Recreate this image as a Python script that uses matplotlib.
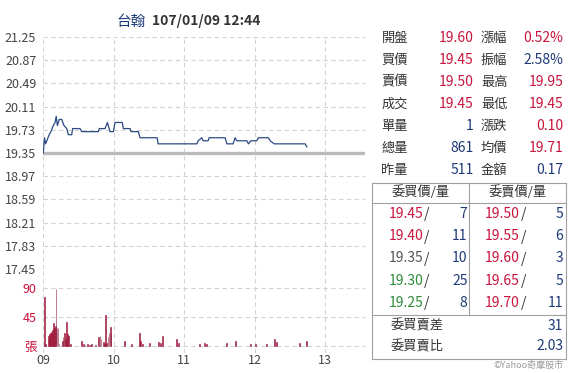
import matplotlib
matplotlib.use("Agg")
import matplotlib.pyplot as plt

plt.rcParams['font.family'] = ['Noto Sans CJK TC', 'DejaVu Sans']

W, H = 587, 373

# ---------------- data ----------------
title_name = "台翰"
title_time = "107/01/09 12:44"
prev_close = 19.35

price_ticks = [21.25, 20.87, 20.49, 20.11, 19.73, 19.35, 18.97, 18.59, 18.21, 17.83, 17.45]
hour_labels = ["09", "10", "11", "12", "13"]
hour_minutes = [0, 60, 120, 180, 240]

# minutes after 09:00 and trade price
price_min = [0, 1, 2, 3, 5, 6.5, 8.5, 10, 11, 12, 13.6, 15.7, 17.6, 20, 21.3, 24.2, 25,
             31.3, 32.7, 46.9, 47.7, 52.6, 54.6, 56.9, 59.7, 61.1, 67.3, 68.2, 73.9, 74.8,
             81, 82.4, 97, 97.8, 130.8, 131.9, 135, 136.2, 140.4, 141.3, 154.9, 156.4,
             161.7, 163.4, 164.9, 173.4, 174.8, 176.8, 181.9, 183.3, 191.8, 193.3, 196.7,
             223.1, 224.5]
price_val = [19.35, 19.60, 19.50, 19.55, 19.65, 19.70, 19.80, 19.85, 19.95, 19.80, 19.90,
             19.90, 19.80, 19.75, 19.65, 19.65, 19.75, 19.75, 19.70, 19.70, 19.75, 19.75,
             19.85, 19.70, 19.70, 19.85, 19.85, 19.75, 19.75, 19.70, 19.70, 19.60, 19.60,
             19.50, 19.50, 19.55, 19.60, 19.55, 19.55, 19.60, 19.60, 19.50, 19.50, 19.60,
             19.55, 19.55, 19.50, 19.55, 19.55, 19.60, 19.60, 19.55, 19.50, 19.50, 19.45]

vol_min = [1, 2, 4.3, 5.3, 6.1, 7, 7.8, 8.5, 9.4, 10.1, 10.8, 11.7, 12.5, 13.4, 16, 16.8,
           17.9, 18.8, 19.6, 20.5, 21.3, 22.8, 32.7, 34.3, 35.5, 37.3, 39.4, 40.7, 44.1,
           47.2, 48.3, 49.2, 51.2, 52.2, 52.9, 53.9, 55.1, 56, 56.9, 57.7, 69, 75.4, 81.8,
           83, 84.7, 90.4, 98, 99.5, 101.4, 113.7, 115.1, 133, 137, 138.7, 156.4, 163.4,
           176.2, 180.5, 190.4, 196.9, 198.4, 218.2, 224]
vol_val = [75, 3, 15, 18, 20, 22, 25, 36, 28, 30, 88, 28, 28, 3, 8, 14, 20, 10, 37, 18, 15,
           2, 7, 2, 1, 2, 1, 2, 1, 14, 15, 10, 5, 3, 47, 4, 14, 20, 29, 20, 8, 3, 20, 8, 3,
           4, 6, 4, 15, 10, 4, 3, 4, 3, 4, 7, 3, 2, 3, 11, 5, 4, 8]
vol_ticks = [0, 45, 90]
vol_tick_labels = ["張", "45", "90"]

info_left_labels = ["開盤", "買價", "賣價", "成交", "單量", "總量", "昨量"]
info_left_values = ["19.60", "19.45", "19.50", "19.45", "1", "861", "511"]
info_left_colors = ["r", "r", "r", "r", "b", "b", "b"]
info_right_labels = ["漲幅", "振幅", "最高", "最低", "漲跌", "均價", "金額"]
info_right_values = ["0.52%", "2.58%", "19.95", "19.45", "0.10", "19.71", "0.17"]
info_right_colors = ["r", "b", "r", "r", "r", "r", "b"]

bid_header = "委買價/量"
ask_header = "委賣價/量"
bid_prices = ["19.45", "19.40", "19.35", "19.30", "19.25"]
bid_colors = ["r", "r", "k", "g", "g"]
bid_qty = ["7", "11", "10", "25", "8"]
ask_prices = ["19.50", "19.55", "19.60", "19.65", "19.70"]
ask_colors = ["r", "r", "r", "r", "r"]
ask_qty = ["5", "6", "3", "5", "11"]
summary_labels = ["委買賣差", "委買賣比"]
summary_values = ["31", "2.03"]
credit = "©Yahoo奇摩股市"

COL = {"r": "#c8143c", "b": "#1f3a78", "g": "#2e8b3a", "k": "#555555"}
TXT = "#333333"

# ---------------- figure ----------------
fig = plt.figure(figsize=(W / 100, H / 100), dpi=100)
fig.patch.set_facecolor("white")

def fx(x):
    return x / W

def fy(y):
    return 1 - y / H

x0, x1 = 43.3, 365
ppm = (325 - 43.3) / 240.0  # pixels per minute
xmax = (x1 - x0) / ppm

# price axes
top, pbot = 37, 269
axp = fig.add_axes([fx(x0), fy(pbot), fx(x1) - fx(x0), (pbot - top) / H])
axp.set_xlim(0, xmax)
axp.set_ylim(17.45, 21.25)
# volume axes
vtop, vbot = 269, 353
zero_y = 345.7
pxu = (345.7 - 287.7) / 90.0
axv = fig.add_axes([fx(x0), fy(vbot), fx(x1) - fx(x0), (vbot - vtop) / H])
axv.set_xlim(0, xmax)
axv.set_ylim(-(vbot - zero_y) / pxu, (zero_y - vtop) / pxu)

grid_kw = dict(color="#d2d2d2", linestyle=(0, (4, 3)), linewidth=0.8)
for ax in (axp, axv):
    for s in ax.spines.values():
        s.set_visible(False)
    ax.set_facecolor("none")
    for m in hour_minutes:
        ax.axvline(m, zorder=0, **grid_kw)

for p in price_ticks:
    axp.axhline(p, zorder=0, **grid_kw)
for v in vol_ticks:
    axv.axhline(v, zorder=0, **grid_kw)

axp.axhline(prev_close, color="#bbbbbb", linewidth=2.4, zorder=1)
axp.plot(price_min, price_val, color="#2a4a82", linewidth=0.9, zorder=3)

axv.bar(vol_min, vol_val, width=0.75, color="#d0103a", edgecolor="#8b1a3a",
        linewidth=0.4, zorder=3)

axp.set_yticks(price_ticks)
axp.set_yticklabels([f"{p:.2f}" for p in price_ticks])
axp.tick_params(axis="y", length=0, pad=5, labelsize=9, labelcolor="#444444")
axp.set_xticks([])

axv.set_yticks(vol_ticks)
axv.set_yticklabels(vol_tick_labels)
axv.tick_params(axis="y", length=0, pad=5, labelsize=9, labelcolor="#c8143c")
axv.set_xticks(hour_minutes)
axv.set_xticklabels(hour_labels)
axv.tick_params(axis="x", length=0, pad=1, labelsize=9, labelcolor="#444444")

# title
fig.text(fx(145.7), fy(21.5), title_name, ha="right", va="center", fontsize=10.5,
         color="#1f3a78")
fig.text(fx(151.5), fy(21.5), title_time, ha="left", va="center", fontsize=10,
         color="#333333", fontweight="bold")

# info table
row_y = [38.3, 60.3, 82.3, 104.3, 126.3, 148.3, 170.3]
for i, y in enumerate(row_y):
    fig.text(fx(381.5), fy(y), info_left_labels[i], ha="left", va="center",
             fontsize=9.5, color=TXT)
    fig.text(fx(473.5), fy(y), info_left_values[i], ha="right", va="center",
             fontsize=10, color=COL[info_left_colors[i]])
    fig.text(fx(481), fy(y), info_right_labels[i], ha="left", va="center",
             fontsize=9.5, color=TXT)
    fig.text(fx(563.5), fy(y), info_right_values[i], ha="right", va="center",
             fontsize=10, color=COL[info_right_colors[i]])

# order book box
from matplotlib.lines import Line2D
bx0, bx1, by0, by1 = 371.7, 566, 183.3, 359
bmid, bhead, bsplit = 469.3, 203.3, 315
lc = "#a0a0a0"
def hline(xa, xb, y):
    fig.add_artist(Line2D([fx(xa), fx(xb)], [fy(y), fy(y)], color=lc, linewidth=0.8))
def vline(x, ya, yb):
    fig.add_artist(Line2D([fx(x), fx(x)], [fy(ya), fy(yb)], color=lc, linewidth=0.8))
hline(bx0, bx1, by0)
hline(bx0, bx1, by1)
hline(bx0, bx1, bhead)
hline(bx0, bx1, bsplit)
vline(bx0, by0, by1)
vline(bx1, by0, by1)
vline(bmid, by0, bsplit)

fig.text(fx(420.5), fy(192.5), bid_header, ha="center", va="center", fontsize=9.5, color=TXT)
fig.text(fx(518), fy(192.5), ask_header, ha="center", va="center", fontsize=9.5, color=TXT)

ob_y = [214.3, 236.5, 258.5, 280.7, 302.7]
for i, y in enumerate(ob_y):
    fig.text(fx(423.5), fy(y), bid_prices[i], ha="right", va="center", fontsize=10,
             color=COL[bid_colors[i]])
    fig.text(fx(424), fy(y), "/", ha="left", va="center", fontsize=10, color=TXT)
    fig.text(fx(467.5), fy(y), bid_qty[i], ha="right", va="center", fontsize=10,
             color=COL["b"])
    fig.text(fx(520), fy(y), ask_prices[i], ha="right", va="center", fontsize=10,
             color=COL[ask_colors[i]])
    fig.text(fx(520.5), fy(y), "/", ha="left", va="center", fontsize=10, color=TXT)
    fig.text(fx(563.5), fy(y), ask_qty[i], ha="right", va="center", fontsize=10,
             color=COL["b"])

sum_y = [325.7, 346.5]
for i, y in enumerate(sum_y):
    fig.text(fx(390.5), fy(y), summary_labels[i], ha="left", va="center", fontsize=9.5,
             color=TXT)
    fig.text(fx(563.5), fy(y), summary_values[i], ha="right", va="center", fontsize=10,
             color=COL["b"])

fig.text(fx(564), fy(365), credit, ha="right", va="center", fontsize=6.5, color="#999999")

fig.savefig("out.png", dpi=100, facecolor="white")
